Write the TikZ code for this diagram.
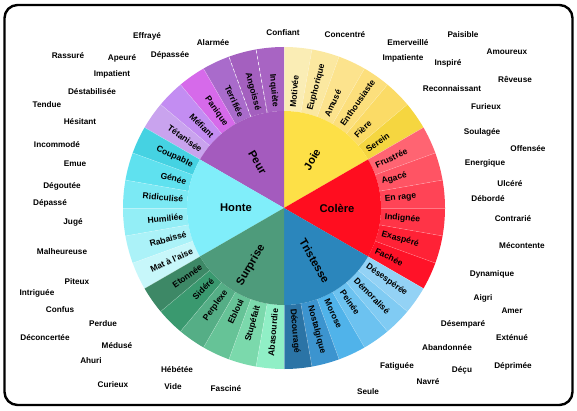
\documentclass[tikz,border=0pt]{standalone}
\usepackage{fontspec}
\setmainfont{Liberation Sans}
% families
\definecolor{joie}{HTML}{FDE047}
\definecolor{colere}{HTML}{FF0D1F}
\definecolor{triste}{HTML}{2B86BC}
\definecolor{peur}{HTML}{A45BBE}
\definecolor{honte}{HTML}{80EEFA}
\definecolor{surpr}{HTML}{4E9B7B}
% outer ring
\definecolor{jo1}{HTML}{FAEDB5}\definecolor{jo2}{HTML}{FBE8A0}\definecolor{jo3}{HTML}{FCE38D}
\definecolor{jo4}{HTML}{FCDF7C}\definecolor{jo5}{HTML}{FBDB66}\definecolor{jo6}{HTML}{F5D640}
\definecolor{co1}{HTML}{FF6472}\definecolor{co2}{HTML}{FF5464}\definecolor{co3}{HTML}{FF4456}
\definecolor{co4}{HTML}{FF3447}\definecolor{co5}{HTML}{FF2236}\definecolor{co6}{HTML}{FF1228}
\definecolor{tr1}{HTML}{93D2F5}\definecolor{tr2}{HTML}{80CBF3}\definecolor{tr3}{HTML}{6CC2F0}
\definecolor{tr4}{HTML}{50B3EA}\definecolor{tr5}{HTML}{3C94CF}\definecolor{tr6}{HTML}{2B74A6}
\definecolor{pe1}{HTML}{A864C3}\definecolor{pe2}{HTML}{A460BF}\definecolor{pe3}{HTML}{A96BCB}
\definecolor{pe4}{HTML}{D66AEA}\definecolor{pe5}{HTML}{C38DF2}\definecolor{pe6}{HTML}{C9A3EE}
\definecolor{ho1}{HTML}{45D2E2}\definecolor{ho2}{HTML}{5FE1EF}\definecolor{ho3}{HTML}{7BE9F4}
\definecolor{ho4}{HTML}{93EEF6}\definecolor{ho5}{HTML}{ABF2F8}\definecolor{ho6}{HTML}{C7F7FA}
\definecolor{su1}{HTML}{3D8866}\definecolor{su2}{HTML}{3A996F}\definecolor{su3}{HTML}{55AE86}
\definecolor{su4}{HTML}{66C397}\definecolor{su5}{HTML}{7BD9AC}\definecolor{su6}{HTML}{90EFC6}
\begin{document}
\begin{tikzpicture}[x=1pt,y=1pt,
  seg/.style={font=\bfseries\fontsize{8.6}{10}\selectfont,inner sep=0pt},
  core/.style={font=\bfseries\fontsize{11.2}{13}\selectfont,inner sep=0pt},
  word/.style={font=\bfseries\fontsize{8.2}{10}\selectfont,inner sep=0pt}]
  \useasboundingbox (0,0) rectangle (577,410);
  \draw[line width=2.4pt,rounded corners=13pt] (4.5,5) rectangle (572.5,405);
  \begin{scope}[shift={(284,202)}]
    % right half of the ring
    \foreach \a/\c/\t [count=\i] in {80/jo1/Motivée,70/jo2/Euphorique,60/jo3/Amusé,50/jo4/Enthousiaste,40/jo5/Fière,30/jo6/Serein,
        20/co1/Frustrée,10/co2/Agacé,0/co3/En rage,-10/co4/Indignée,-20/co5/Exaspéré,-30/co6/Fachée,
        -40/tr1/Désespérée,-50/tr2/Démoralisé,-60/tr3/Peinée,-70/tr4/Morose,-80/tr5/Nostalgique,-90/tr6/Découragé} {
      \fill[\c] (\a:97) -- (\a:161) arc[start angle=\a,end angle=\a+10,radius=161] -- ({\a+10}:97)
        arc[start angle=\a+10,end angle=\a,radius=97] -- cycle;
      \node[seg,rotate=\a+5,anchor=west] (r\i) at ({\a+5}:101) {\t};
    }
    % left half of the ring
    \foreach \a/\c/\t [count=\i] in {90/pe1/Inquiète,100/pe2/Angoissé,110/pe3/Terrifiée,120/pe4/Panique,130/pe5/Méfiant,140/pe6/Tétanisée,
        150/ho1/Coupable,160/ho2/Génée,170/ho3/Ridiculisé,180/ho4/Humiliée,190/ho5/Rabaissé,200/ho6/Mat à l'aise,
        210/su1/Etonnée,220/su2/Sidéré,230/su3/Perplexe,240/su4/Ebloui,250/su5/Stupéfait,260/su6/Abasourdie} {
      \fill[\c] (\a:97) -- (\a:161) arc[start angle=\a,end angle=\a+10,radius=161] -- ({\a+10}:97)
        arc[start angle=\a+10,end angle=\a,radius=97] -- cycle;
      \node[seg,rotate=\a-175,anchor=east] (l\i) at ({\a+5}:101) {\t};
    }
    \foreach \a in {-80,-70,...,270}
      \draw[white,opacity=.35,line width=.4pt] (\a:97) -- (\a:161);
    \draw[white,dashed,line width=.5pt] (100:97) -- (100:161) (110:97) -- (110:161);
    % inner sectors
    \foreach \a/\c/\t/\r/\o in {60/joie/Joie/56/60,0/colere/Colère/53/0,-60/triste/Tristesse/61/-60,
        120/peur/Peur/53/-60,180/honte/Honte/48/0,240/surpr/Surprise/66/60} {
      \fill[\c] (0,0) -- ({\a-30}:97) arc[start angle=\a-30,end angle=\a+30,radius=97] -- cycle;
      \node[core,rotate=\o] (\t) at (\a:\r) {\t};
    }
  \end{scope}
  % loose words around the wheel
  \foreach \x/\y/\t [count=\i] in {147/374/Effrayé,68/354/Rassuré,122/352/Apeuré,170/355/Dépassée,213/367/Alarmée,
      283/377/Confiant,345/375/Concentré,408/367/Emerveillé,463/375/Paisible,507/358/Amoureux,403/352/Impatiente,
      448/347/Inspiré,515/331/Rêveuse,452/321/Reconnaissant,486/303/Furieux,482/278/Soulagée,528/261/Offensée,
      485/247/Energique,510/226/Ulcéré,488/211/Débordé,513/191/Contrarié,522/164/Mécontente,492/136/Dynamique,
      483/112/Aigri,512/99/Amer,463/86/Désemparé,512/72/Exténué,447/62/Abandonnée,462/40/Déçu,513/44/Déprimée,
      428/28/Navré,397/44/Fatiguée,368/18/Seule,226/21/Fasciné,173/23/Vide,177/40/Hébétée,113/25/Curieux,
      91/49/Ahuri,117/64/Médusé,45/72/Déconcertée,103/86/Perdue,60/100/Confus,37/117/Intriguée,77/128/Piteux,
      62/158/Malheureuse,73/188/Jugé,50/207/Dépassé,62/224/Dégoutée,75/246/Emue,57/265/Incommodé,80/288/Hésitant,
      47/305/Tendue,92/318/Déstabilisée,112/336/Impatient}
    \node[word] (w\i) at (\x,\y) {\t};
\end{tikzpicture}
\end{document}
